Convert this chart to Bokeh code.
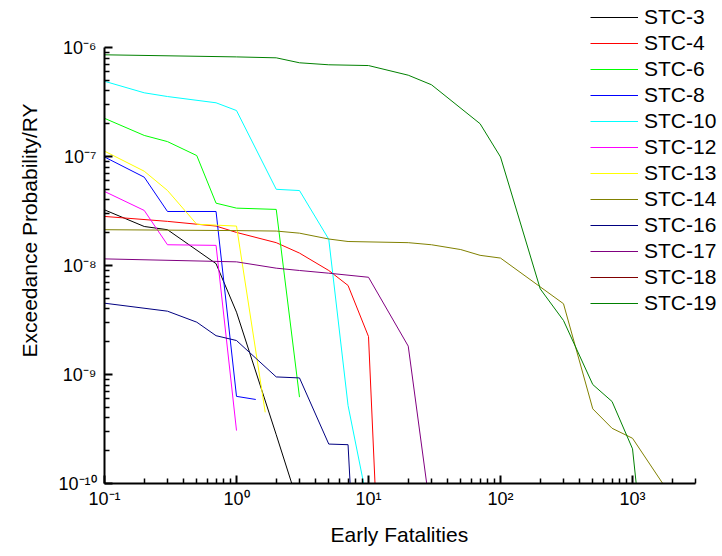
import math
from bokeh.plotting import figure
from bokeh.models import Range1d, FixedTicker, Legend, LegendItem, Title
from bokeh.embed import file_html
from bokeh.resources import INLINE

# ---------------- data ----------------
series_names = ["STC-3", "STC-4", "STC-6", "STC-8", "STC-10", "STC-12",
                "STC-13", "STC-14", "STC-16", "STC-17", "STC-18", "STC-19"]
series_colors = ["#000000", "#ff0000", "#00ff00", "#0000ff", "#00ffff", "#ff00ff",
                 "#ffff00", "#808000", "#000080", "#800080", "#800000", "#008000"]

stc3_x = [0.1, 0.2, 0.3, 0.7, 1.0, 2.0, 3.0]
stc3_y = [3.24e-8, 2.28e-8, 2.13e-8, 1.04e-8, 3.73e-9, 2.8e-10, 6e-11]

stc4_x = [0.1, 0.3, 0.7, 1.0, 2.0, 3.0, 5.0, 7.0, 10.0, 12.0]
stc4_y = [2.82e-8, 2.54e-8, 2.30e-8, 2.01e-8, 1.62e-8, 1.30e-8, 9.0e-9, 6.56e-9, 2.23e-9, 1.5e-11]

stc6_x = [0.1, 0.2, 0.3, 0.5, 0.7, 1.0, 2.0, 3.0]
stc6_y = [2.24e-7, 1.56e-7, 1.37e-7, 1.02e-7, 3.73e-8, 3.36e-8, 3.27e-8, 6.2e-10]

stc8_x = [0.1, 0.2, 0.3, 0.7, 1.0, 1.4]
stc8_y = [9.9e-8, 6.46e-8, 3.13e-8, 3.13e-8, 6.3e-10, 5.9e-10]

stc10_x = [0.1, 0.2, 0.3, 0.7, 1.0, 2.0, 3.0, 5.0, 7.0, 10.0]
stc10_y = [4.9e-7, 3.84e-7, 3.55e-7, 3.11e-7, 2.64e-7, 5.0e-8, 4.87e-8, 1.74e-8, 5.2e-10, 6e-11]

stc12_x = [0.1, 0.2, 0.3, 0.7, 1.0]
stc12_y = [4.78e-8, 3.20e-8, 1.55e-8, 1.53e-8, 3.06e-10]

stc13_x = [0.1, 0.2, 0.3, 0.5, 1.0, 1.65]
stc13_y = [1.12e-7, 7.33e-8, 4.88e-8, 2.39e-8, 2.30e-8, 4.5e-10]

stc14_x = [0.1, 1.0, 2.0, 3.0, 5.0, 7.0, 20.0, 30.0, 50.0, 70.0, 100.0, 300.0, 500.0, 700.0, 1000.0, 2000.0]
stc14_y = [2.13e-8, 2.09e-8, 2.07e-8, 1.98e-8, 1.75e-8, 1.66e-8, 1.62e-8, 1.55e-8, 1.40e-8,
           1.24e-8, 1.17e-8, 4.46e-9, 4.84e-10, 3.21e-10, 2.6e-10, 7.4e-11]

stc16_x = [0.1, 0.3, 0.5, 0.7, 1.0, 2.0, 3.0, 5.0, 7.0, 7.5]
stc16_y = [4.51e-9, 3.81e-9, 3.02e-9, 2.27e-9, 2.05e-9, 9.5e-10, 9.3e-10, 2.30e-10, 2.27e-10, 4.7e-11]

stc17_x = [0.1, 1.0, 2.0, 3.0, 5.0, 10.0, 20.0, 30.0]
stc17_y = [1.15e-8, 1.08e-8, 9.45e-9, 9.0e-9, 8.5e-9, 7.8e-9, 1.82e-9, 4.7e-11]

# STC-18 never appears inside the plotted window (below 1e-10)
stc18_x = [0.1]
stc18_y = [1e-11]

stc19_x = [0.1, 1.0, 2.0, 3.0, 5.0, 10.0, 20.0, 30.0, 70.0, 100.0, 200.0, 300.0, 500.0, 700.0, 1000.0, 1100.0]
stc19_y = [8.57e-7, 8.2e-7, 8.04e-7, 7.24e-7, 6.94e-7, 6.83e-7, 5.57e-7, 4.55e-7, 2.0e-7,
           9.9e-8, 6.1e-9, 3.13e-9, 8.09e-10, 5.65e-10, 2.08e-10, 7e-11]

series_x = [stc3_x, stc4_x, stc6_x, stc8_x, stc10_x, stc12_x, stc13_x, stc14_x, stc16_x, stc17_x, stc18_x, stc19_x]
series_y = [stc3_y, stc4_y, stc6_y, stc8_y, stc10_y, stc12_y, stc13_y, stc14_y, stc16_y, stc17_y, stc18_y, stc19_y]

x_ticks = [0.1, 1.0, 10.0, 100.0, 1000.0]
x_tick_labels = ["10\u207b\u00b9", "10\u2070", "10\u00b9", "10\u00b2", "10\u00b3"]
y_ticks = [1e-10, 1e-9, 1e-8, 1e-7, 1e-6]
y_tick_labels = ["10\u207b\u00b9\u2070", "10\u207b\u2079", "10\u207b\u2078", "10\u207b\u2077", "10\u207b\u2076"]
x_axis_bounds = (0.1, 3000.0)
y_axis_bounds = (1e-10, 1e-6)

x_label = "Early Fatalities"
y_label = "Exceedance Probability/RY"

# ---------------- layout geometry ----------------
FONT = "Liberation Sans"
W, H = 722, 556
LEFT, BOTTOM = 104, 73
AXIS_W, AXIS_H = 591, 436          # pixel length of the drawn axes
frame_w, frame_h = W - LEFT, H - BOTTOM
px_per_dec_x = AXIS_W / (math.log10(x_axis_bounds[1]) - math.log10(x_axis_bounds[0]))
px_per_dec_y = AXIS_H / (math.log10(y_axis_bounds[1]) - math.log10(y_axis_bounds[0]))
x_end = 10 ** (math.log10(x_axis_bounds[0]) + frame_w / px_per_dec_x)
y_end = 10 ** (math.log10(y_axis_bounds[0]) + frame_h / px_per_dec_y)

p = figure(width=W, height=H, x_axis_type="log", y_axis_type="log",
           x_range=Range1d(x_axis_bounds[0], x_end), y_range=Range1d(y_axis_bounds[0], y_end),
           output_backend="svg", toolbar_location=None,
           min_border_left=LEFT, min_border_right=0, min_border_top=0, min_border_bottom=BOTTOM)
p.outline_line_color = None
p.grid.visible = False
p.background_fill_color = "white"
p.border_fill_color = "white"

x_minor = [m * 10.0 ** k for k in range(-1, 4) for m in range(2, 10) if m * 10.0 ** k <= 3000]
y_minor = [m * 10.0 ** k for k in range(-10, -6) for m in range(2, 10)]
p.xaxis.ticker = FixedTicker(ticks=x_ticks, minor_ticks=x_minor)
p.yaxis.ticker = FixedTicker(ticks=y_ticks, minor_ticks=y_minor)
p.xaxis.major_label_overrides = {t: l for t, l in zip(x_ticks, x_tick_labels)}
p.yaxis.major_label_overrides = {t: l for t, l in zip(y_ticks, y_tick_labels)}
p.xaxis.bounds = x_axis_bounds
p.yaxis.bounds = y_axis_bounds

for ax in (p.xaxis[0], p.yaxis[0]):
    ax.axis_line_width = 2
    ax.axis_line_color = "black"
    ax.major_tick_in = 8
    ax.major_tick_out = 0
    ax.minor_tick_in = 5
    ax.minor_tick_out = 0
    ax.major_tick_line_width = 2
    ax.minor_tick_line_width = 1.5
    ax.major_tick_line_color = "black"
    ax.minor_tick_line_color = "black"
    ax.major_label_text_font = FONT
    ax.major_label_text_font_size = "18px"
    ax.major_label_text_color = "black"

p.xaxis.major_label_standoff = 5
p.yaxis.major_label_standoff = 8

# axis titles (panel titles so they can sit off-centre like the reference)
p.add_layout(Title(text=x_label, align="left", offset=226, standoff=19,
                   text_font=FONT, text_font_size="21px", text_font_style="normal",
                   text_color="black"), "below")
p.add_layout(Title(text=y_label, align="left", offset=126, standoff=30,
                   text_font=FONT, text_font_size="21px", text_font_style="normal",
                   text_color="black"), "left")

items = []
for name, col, xs, ys in zip(series_names, series_colors, series_x, series_y):
    r = p.line(xs, ys, line_color=col, line_width=1)
    items.append(LegendItem(label=name, renderers=[r]))

legend = Legend(items=items, location=(486, 168), orientation="vertical",
                padding=0, margin=0, spacing=2,
                glyph_width=48, glyph_height=24, label_height=24, label_standoff=6,
                label_text_font=FONT, label_text_font_size="21px", label_text_color="black",
                border_line_color=None, background_fill_alpha=0)
p.add_layout(legend, "center")

open("out.html", "w").write(file_html(p, INLINE))
